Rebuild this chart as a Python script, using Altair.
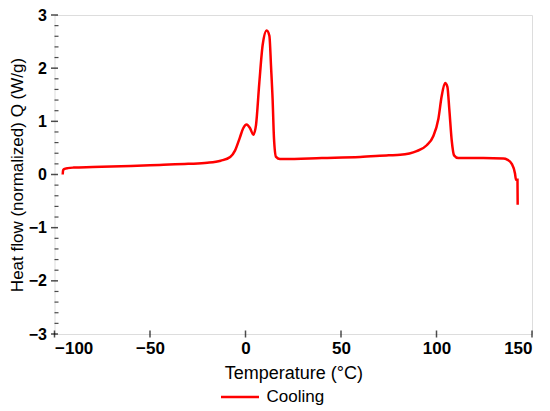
import altair as alt
import pandas as pd

# Curve values (Temperature in °C, heat flow in W/g)
temp = [-95.7, -95.5, -95.0, -93.0, -90.0, -80.0, -60.0, -45.0, -30.0, -20.0,
        -13.0, -8.0, -5.5, -3.0, -1.2, 0.6, 2.4, 4.1, 5.5, 7.2,
        9.0, 11.1, 12.5, 13.4, 14.2, 14.9, 16.0, 18.0, 20.0, 40.0,
        60.0, 75.0, 81.0, 89.6, 94.9, 98.3, 101.0, 102.7, 104.5, 105.7,
        106.7, 108.0, 109.2, 111.4, 124.5, 135.0, 137.0, 139.4, 141.1, 141.6,
        142.4, 142.5]
heat = [0.0, 0.08, 0.10, 0.12, 0.13, 0.14, 0.16, 0.18, 0.20, 0.22,
        0.26, 0.33, 0.45, 0.69, 0.87, 0.94, 0.87, 0.75, 0.93, 1.71,
        2.44, 2.71, 2.61, 2.01, 1.41, 0.69, 0.33, 0.29, 0.29, 0.31,
        0.33, 0.36, 0.37, 0.44, 0.55, 0.72, 1.05, 1.47, 1.72, 1.65,
        1.23, 0.63, 0.36, 0.31, 0.31, 0.30, 0.28, 0.20, 0.02, -0.10,
        -0.10, -0.57]

x_ticks = [-100, -50, 0, 50, 100, 150]
y_ticks = [-3, -2, -1, 0, 1, 2, 3]
y_minor = [round(-3 + 0.2 * i, 1) for i in range(31)]
y_minor = [v for v in y_minor if abs(v - round(v)) > 1e-6]

df = pd.DataFrame({"T": temp, "Q": heat, "idx": list(range(len(temp))),
                   "series": ["Cooling"] * len(temp)})
xt = pd.DataFrame({"T": x_ticks})
yt = pd.DataFrame({"Q": y_ticks})
ym = pd.DataFrame({"Q": y_minor})

FONT = "Liberation Sans"
W, H = 477.5, 319

xscale = alt.Scale(domain=[-100, 150], nice=False, zero=False)
yscale = alt.Scale(domain=[-3, 3], nice=False, zero=False)

line = alt.Chart(df).mark_line(strokeWidth=2.5, clip=True, interpolate="monotone").encode(
    x=alt.X("T:Q", scale=xscale, title="Temperature (°C)",
            axis=alt.Axis(values=x_ticks, format="d", ticks=False, tickSize=0, domain=False,
                          grid=False, labelPadding=6, titlePadding=8,
                          labelFont=FONT, labelFontSize=17, labelFontWeight="bold",
                          labelColor="black", titleFont=FONT, titleFontSize=18,
                          titleFontWeight="normal", titleColor="black")),
    y=alt.Y("Q:Q", scale=yscale, title="Heat flow (normalized) Q (W/g)",
            axis=alt.Axis(values=y_ticks, format="d", ticks=False, tickSize=0, domain=False,
                          grid=False, labelPadding=8, titlePadding=2,
                          labelFont=FONT, labelFontSize=16, labelFontWeight="bold",
                          labelColor="black", titleFont=FONT, titleFontSize=17,
                          titleFontWeight="normal", titleColor="black")),
    order="idx:Q",
    color=alt.Color("series:N", scale=alt.Scale(range=["#ff0000"]),
                    legend=alt.Legend(title=None, orient="none", legendX=165,
                                      legendY=361.5, symbolType="stroke",
                                      symbolSize=1444, symbolStrokeWidth=2.5,
                                      labelFont=FONT, labelFontSize=17,
                                      labelColor="black", labelOffset=6)),
)

xtick = alt.Chart(xt).mark_tick(orient="vertical", color="black", thickness=1.5,
                                size=7).encode(
    x=alt.X("T:Q", scale=xscale), y=alt.value(H))
ytick = alt.Chart(yt).mark_tick(orient="horizontal", color="black", thickness=1.5,
                                size=7).encode(
    y=alt.Y("Q:Q", scale=yscale), x=alt.value(0))
yminor = alt.Chart(ym).mark_tick(orient="horizontal", color="black", thickness=1.2,
                                 size=4).encode(
    y=alt.Y("Q:Q", scale=yscale), x=alt.value(2))

chart = alt.layer(line, xtick, ytick, yminor).properties(
    width=W, height=H,
    autosize=alt.AutoSizeParams(type="none"),
    padding={"left": 46.5, "top": 7, "right": 10, "bottom": 73},
).configure_view(stroke="black", strokeWidth=1.8).configure(background="white")

chart.save("out.html", embed_options={"renderer": "svg", "actions": False})
